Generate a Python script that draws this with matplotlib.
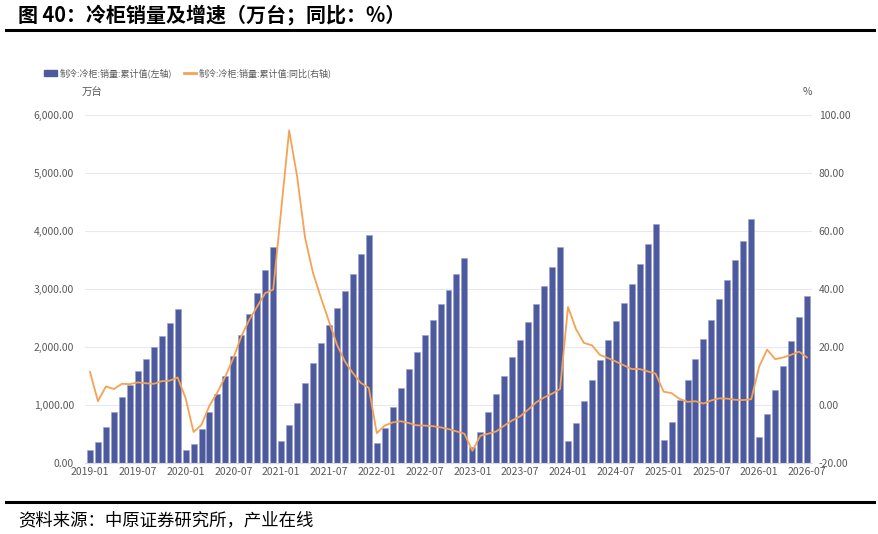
import pandas as pd
import matplotlib
matplotlib.use("Agg")
import matplotlib.pyplot as plt
from matplotlib.patches import Patch
from matplotlib.lines import Line2D
from matplotlib.ticker import FuncFormatter

plt.rcParams['font.family'] = ['Noto Sans CJK SC', 'DejaVu Sans']

# monthly categories 2019-01 .. 2026-07
months = pd.date_range("2019-01-01", "2026-07-01", freq="MS").strftime("%Y-%m").tolist()

# cumulative sales, 10k units (left axis)
sales = [
    218, 367, 620, 873, 1131, 1349, 1579, 1791, 1998, 2193, 2411, 2658,
    230, 333, 586, 873, 1188, 1504, 1837, 2204, 2566, 2928, 3335, 3720,
    379, 649, 1033, 1378, 1722, 2061, 2371, 2676, 2968, 3266, 3599, 3932,
    339, 603, 970, 1297, 1613, 1911, 2204, 2474, 2738, 2991, 3266, 3530,
    280, 534, 873, 1183, 1504, 1820, 2118, 2428, 2750, 3054, 3381, 3725,
    379, 683, 1062, 1424, 1768, 2124, 2445, 2767, 3088, 3433, 3772, 4127,
    402, 706, 1085, 1435, 1791, 2135, 2474, 2824, 3157, 3496, 3835, 4214,
    448, 844, 1251, 1670, 2101, 2514, 2876,
]

# cumulative yoy, % (right axis)
yoy = [
    11.4, 1.3, 6.4, 5.5, 7.3, 7.2, 7.8, 7.5, 7.3, 8.2, 8.4, 9.5,
    2.4, -9.3, -6.8, -0.2, 4.4, 9.9, 16.2, 23.7, 29.4, 34.0, 38.6, 39.8,
    67.3, 94.7, 78.8, 57.6, 45.5, 36.9, 28.8, 20.8, 15.0, 11.0, 7.6, 5.9,
    -9.7, -7.1, -6.0, -5.6, -6.2, -7.0, -7.1, -7.3, -7.7, -8.3, -9.1, -9.9,
    -15.8, -10.6, -9.9, -9.1, -7.1, -5.3, -3.9, -1.6, 0.9, 2.6, 3.9, 5.5,
    33.8, 26.2, 21.4, 20.6, 17.3, 16.2, 15.0, 13.7, 12.4, 12.4, 11.6, 10.8,
    4.6, 4.1, 2.1, 1.1, 1.3, 0.5, 1.6, 2.3, 2.2, 1.8, 1.7, 2.0,
    13.3, 19.1, 15.8, 16.4, 17.3, 18.4, 16.4,
]

tick_labels = [m for m in months if m.endswith("-01") or m.endswith("-07")]

bar_color = "#4E5A9E"
line_color = "#F5A254"
text_color = "#595959"

fig = plt.figure(figsize=(8.79, 5.34), dpi=100)
ax = fig.add_axes([85.2 / 879, 71 / 534, 726.6 / 879, 348 / 534])
x = list(range(len(months)))

ax.bar(x, sales, width=0.75, color=bar_color, edgecolor="#9AA1CC", linewidth=0.4, zorder=2)
ax.set_ylim(0, 6000)
ax.set_xlim(-0.6, len(months) - 0.4)
ax.set_yticks(range(0, 6001, 1000))
ax.yaxis.set_major_formatter(FuncFormatter(lambda v, p: f"{v:,.2f}"))
ax.set_xticks([months.index(t) for t in tick_labels])
ax.set_xticklabels(tick_labels)
ax.grid(axis="y", color="#E8E8F0", linewidth=0.8, zorder=0)
ax.tick_params(axis="y", length=0, pad=8, labelsize=7.5, labelcolor=text_color)
ax.tick_params(axis="x", length=0, pad=3, labelsize=7.5, labelcolor=text_color)
for s in ["top", "right", "left"]:
    ax.spines[s].set_visible(False)
ax.spines["bottom"].set_color("#D9D9E3")

ax2 = ax.twinx()
ax2.plot(x, yoy, color=line_color, linewidth=1.3, zorder=3)
ax2.set_ylim(-20, 100)
ax2.set_yticks(range(-20, 101, 20))
ax2.yaxis.set_major_formatter(FuncFormatter(lambda v, p: f"{v:.2f}"))
ax2.tick_params(axis="y", length=0, pad=5, labelsize=7.5, labelcolor=text_color)
for s in ["top", "right", "left", "bottom"]:
    ax2.spines[s].set_visible(False)

# unit labels
fig.text(82 / 879, 1 - 92 / 534, "万台", fontsize=7.5, color=text_color, va="center")
fig.text(803 / 879, 1 - 92 / 534, "%", fontsize=7.5, color=text_color, va="center")

# legend
handles = [
    Patch(facecolor=bar_color, edgecolor=bar_color),
    Line2D([0], [0], color=line_color, linewidth=2),
]
labels = ["制冷:冷柜:销量:累计值(左轴)", "制冷:冷柜:销量:累计值:同比(右轴)"]
fig.legend(handles, labels, loc="center left", bbox_to_anchor=(36 / 879, 1 - 73 / 534),
           ncol=2, frameon=False, fontsize=6.5, labelcolor=text_color,
           handlelength=1.4, handleheight=0.6, handletextpad=0.3, columnspacing=1.3)

# title, rules and source
fig.text(18 / 879, 1 - 15 / 534, "图 40：冷柜销量及增速（万台；同比：%）",
         fontsize=14.4, fontweight="bold", va="center", color="black")
fig.add_artist(Line2D([6 / 879, 874 / 879], [1 - 30 / 534, 1 - 30 / 534], color="black", linewidth=2.2))
fig.add_artist(Line2D([6 / 879, 874 / 879], [1 - 502 / 534, 1 - 502 / 534], color="black", linewidth=2.2))
fig.text(18 / 879, 1 - 520 / 534, "资料来源：中原证券研究所，产业在线", fontsize=12.5, va="center", color="black")

fig.savefig("out.png", dpi=100)
